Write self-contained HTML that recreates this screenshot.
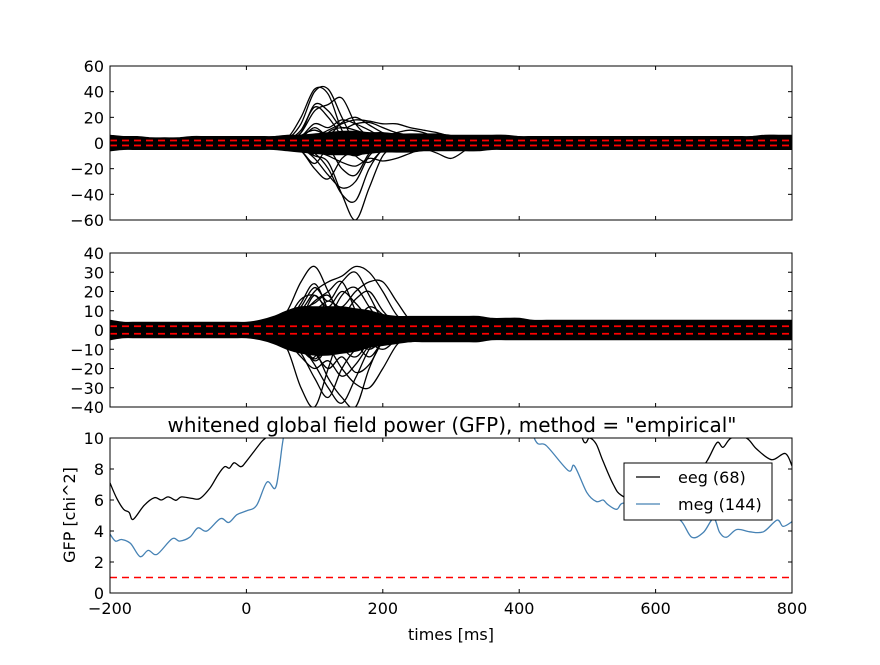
<!DOCTYPE html>
<html><head><meta charset="utf-8"><style>
body{margin:0;background:#fff}
svg text{font-family:"DejaVu Sans","Liberation Sans",sans-serif;fill:#000}
</style></head><body>
<svg id="fig" width="880" height="660" xmlns="http://www.w3.org/2000/svg"></svg>
<script>
// ---- data ----
const bandTimes = [-200,-180,-160,-140,-120,-100,-80,-60,-40,-20,0,20,40,60,80,100,120,140,160,180,200,220,240,260,280,300,320,340,360,380,400,420,440,460,480,500,520,540,560,580,600,620,640,660,680,700,720,740,760,780,800];
const eegBandUpper = [6,5,5,4,4,4,5,5,5,5,5,5,5,6,6,7,8,9,9,8,8,7,7,7,7,6,6,6,6,6,5,5,5,5,5,5,5,5,5,5,5,5,5,5,5,5,5,5,6,6,6];
const eegBandLower = [-6,-5,-5,-5,-5,-5,-5,-5,-5,-5,-5,-5,-5,-6,-7,-8,-9,-9,-9,-8,-7,-7,-7,-6,-6,-6,-6,-6,-5,-5,-5,-5,-5,-5,-5,-5,-5,-5,-5,-5,-5,-5,-5,-5,-5,-5,-5,-5,-5,-5,-5];
const megBandUpper = [5,4,4,4,4,4,4,4,4,4,4,5,7,10,12,12,12,12,11,10,8,7,7,7,7,7,7,7,6,6,6,5,5,5,5,5,5,5,5,5,5,5,5,5,5,5,5,5,5,5,5];
const megBandLower = [-5,-4,-4,-4,-4,-4,-4,-4,-4,-4,-4,-5,-7,-10,-12,-13,-13,-12,-11,-9,-8,-7,-6,-6,-6,-6,-6,-6,-5,-5,-5,-5,-5,-5,-5,-5,-5,-5,-5,-5,-5,-5,-5,-5,-5,-5,-5,-5,-5,-5,-5];
const evokedTimes = [0,20,40,60,80,100,120,140,160,180,200,220,240,260,280,300,320];
const eegTraces = [
 [0,1,2,4,20,42,38,10,-5,-3,0,2,1,0,0,0,0],
 [0,0,1,3,15,40,42,20,0,-2,0,1,0,0,0,0,0],
 [0,0,1,2,8,25,30,35,15,5,2,0,0,0,0,0,0],
 [1,1,0,-2,-5,-10,-15,-40,-60,-35,-10,-3,-1,0,1,0,0],
 [0,0,0,-1,-3,-8,-20,-40,-45,-20,-5,0,0,0,0,0,0],
 [0,0,1,0,-4,-12,-25,-35,-30,-10,-2,0,0,1,0,0,0],
 [0,0,0,1,5,15,12,18,15,10,5,8,10,8,4,2,1],
 [0,0,0,-1,-6,-16,-5,-20,-25,-8,0,3,2,0,0,0,0],
 [0,0,0,2,10,28,20,5,-10,-15,-5,0,0,0,0,0,0],
 [0,0,0,0,2,5,10,15,18,17,15,15,12,10,8,5,2],
 [0,0,0,-1,-3,-6,-10,-15,-18,-12,-14,-12,-8,-4,-2,0,0],
 [0,0,0,1,8,30,25,12,15,16,12,8,6,4,2,1,0],
 [0,0,0,-2,-6,-20,-28,-12,-6,-3,-1,0,0,-4,-8,-12,-6],
 [0,0,0,1,4,12,6,16,20,14,8,4,2,0,0,0,0],
 [0,0,1,3,6,10,4,-6,-10,-6,-2,0,0,0,0,0,0],
 [0,0,0,-2,-4,-8,8,12,10,6,3,1,0,0,0,0,0]
];
const megTraces = [
 [0,1,3,10,25,33,20,5,-5,-10,-5,0,0,0,0,0,0],
 [0,-1,-3,-10,-30,-40,-20,0,5,0,0,0,0,0,0,0,0],
 [0,0,1,3,8,15,20,25,10,-5,-10,-5,0,0,0,0,0],
 [0,0,0,-2,-5,-10,-25,-35,-40,-20,-5,0,0,0,0,0,0],
 [0,0,2,5,10,20,25,28,33,30,20,8,2,0,0,0,0],
 [0,0,-1,-3,-8,-15,-10,-20,-28,-30,-20,-8,-2,0,0,0,0],
 [0,0,1,4,12,22,15,25,30,18,5,0,0,0,0,0,0],
 [0,0,-1,-4,-12,-25,-35,-20,-10,-5,0,0,0,0,0,0,0],
 [0,0,1,2,5,10,15,12,20,25,25,15,5,0,0,0,0],
 [0,0,-1,-2,-8,-18,-30,-38,-25,-10,-2,0,0,0,0,0,0],
 [0,0,1,3,14,24,10,-8,-14,-6,0,4,6,5,3,1,0],
 [0,0,-1,-3,-10,-14,4,18,22,12,2,-4,-6,-4,-2,0,0],
 [0,0,2,6,16,18,12,20,14,6,2,0,0,0,0,0,0],
 [0,0,-2,-6,-14,-20,-16,-24,-18,-8,-2,0,0,0,0,0,0],
 [0,0,1,3,10,14,18,8,16,20,10,3,0,0,0,0,0],
 [0,0,-1,-4,-8,-12,-20,-14,-22,-18,-6,-1,0,0,0,0,0],
 [0,0,1,2,6,18,8,-4,4,12,8,2,0,0,0,0,0],
 [0,0,-1,-2,-5,-16,-8,6,-6,-14,-6,-2,0,0,0,0,0]
];
const gfpEegTimes = [-200,-190,-180,-172,-166,-150,-135,-125,-115,-105,-102,-95,-80,-68,-53,-42,-32,-25,-18,-8,0,22,32,60,200,400,480,496,503,513,523,538,550,580,620,650,675,690,699,711,733,748,770,790,800];
const gfpEeg = [7.1,6.1,5.4,5.2,4.75,5.65,6.15,6.0,6.2,6.0,6.0,6.2,6.1,6.1,6.8,7.6,8.15,8.05,8.4,8.15,8.5,9.75,10.2,12,16,12,10.5,9.7,10.0,9.6,8.5,7.0,6.3,5.8,6.0,7.0,8.5,9.7,9.4,10.0,10.0,9.3,8.6,9.0,8.2];
const gfpMegTimes = [-200,-192,-183,-170,-156,-144,-131,-109,-98,-83,-71,-58,-38,-26,-14,0,15,30,42,48,55,70,200,400,423,440,472,481,499,513,523,530,543,553,580,610,636,653,670,685,694,704,719,738,758,778,787,800];
const gfpMeg = [3.8,3.35,3.45,3.2,2.35,2.75,2.5,3.5,3.35,3.6,4.2,4.0,4.8,4.55,5.05,5.3,5.65,7.15,6.75,8.0,10.2,13,16,13,9.9,9.5,7.9,8.2,6.5,5.9,6.0,5.7,5.4,5.8,5.3,5.0,4.7,3.6,3.9,4.8,3.9,3.6,4.1,3.95,3.95,4.7,4.3,4.6];
const xTicks = [-200,0,200,400,600,800];
const y1Ticks = [-60,-40,-20,0,20,40,60];
const y2Ticks = [-40,-30,-20,-10,0,10,20,30,40];
const y3Ticks = [0,2,4,6,8,10];

// ---- drawing ----
const NS="http://www.w3.org/2000/svg";
const svg=document.getElementById('fig');
function mk(tag,attrs,parent){const e=document.createElementNS(NS,tag);for(const k in attrs)e.setAttribute(k,attrs[k]);(parent||svg).appendChild(e);return e;}
const X0=110,X1=792;
const xs=t=>X0+(t+200)/1000*(X1-X0);
const panels=[
 {top:66,bot:220,min:-60,max:60,ticks:y1Ticks,name:'eeg-panel'},
 {top:253,bot:407,min:-40,max:40,ticks:y2Ticks,name:'meg-panel'},
 {top:438,bot:593,min:0,max:10,ticks:y3Ticks,name:'gfp-panel'}];
panels.forEach((p,i)=>{p.ys=v=>p.bot-(v-p.min)/(p.max-p.min)*(p.bot-p.top);
 const cp=mk('clipPath',{id:'clip'+i});mk('rect',{x:X0,y:p.top,width:X1-X0,height:p.bot-p.top},cp);});
function smooth(pts){let d='M'+pts[0][0].toFixed(1)+','+pts[0][1].toFixed(1);
 for(let i=0;i<pts.length-1;i++){const p0=pts[Math.max(0,i-1)],p1=pts[i],p2=pts[i+1],p3=pts[Math.min(pts.length-1,i+2)];
  const c1=[p1[0]+(p2[0]-p0[0])/6,p1[1]+(p2[1]-p0[1])/6],c2=[p2[0]-(p3[0]-p1[0])/6,p2[1]-(p3[1]-p1[1])/6];
  d+=' C'+c1.map(v=>v.toFixed(1))+' '+c2.map(v=>v.toFixed(1))+' '+p2[0].toFixed(1)+','+p2[1].toFixed(1);}
 return d;}
function drawButterfly(p,i,up,lo,traces,nm){
 const g=mk('g',{'clip-path':'url(#clip'+i+')'});
 
 
 const top=bandTimes.map((t,k)=>[xs(t),p.ys(up[k])]);
 const bot=bandTimes.map((t,k)=>[xs(t),p.ys(lo[k])]).reverse();
 const band=mk('path',{d:smooth(top)+' L'+smooth(bot).slice(1)+' Z',fill:'#000',stroke:'#000','stroke-width':1.2},g);
 
 
 traces.forEach((tr,k)=>{
  const pts=evokedTimes.map((t,j)=>[xs(t),p.ys(tr[j])]);
  const e=mk('path',{d:smooth(pts),fill:'none',stroke:'#000','stroke-width':1.3},g);
  
  });
 [-1.96,1.96].forEach(v=>{const l=mk('line',{x1:X0,x2:X1,y1:p.ys(v),y2:p.ys(v),stroke:'#f00','stroke-width':1.8,'stroke-dasharray':'7,5'},g);
  
  });
}
drawButterfly(panels[0],0,eegBandUpper,eegBandLower,eegTraces,'eeg');
drawButterfly(panels[1],1,megBandUpper,megBandLower,megTraces,'meg');
// gfp
{const p=panels[2];const g=mk('g',{'clip-path':'url(#clip2)'});
 const l=mk('line',{x1:X0,x2:X1,y1:p.ys(1),y2:p.ys(1),stroke:'#f00','stroke-width':1.5,'stroke-dasharray':'7,5'},g);
 
 
 const a=mk('path',{d:smooth(gfpEegTimes.map((t,k)=>[xs(t),p.ys(gfpEeg[k])])),fill:'none',stroke:'#000','stroke-width':1.3},g);
 
 
 const b=mk('path',{d:smooth(gfpMegTimes.map((t,k)=>[xs(t),p.ys(gfpMeg[k])])),fill:'none',stroke:'#4682b4','stroke-width':1.3},g);
 
 }
// axes
panels.forEach((p,i)=>{
 const fr=mk('rect',{x:X0,y:p.top,width:X1-X0,height:p.bot-p.top,fill:'none',stroke:'#000','stroke-width':1});
 
 
 xTicks.forEach(t=>{const x=xs(t);
  mk('line',{x1:x,x2:x,y1:p.bot,y2:p.bot-4,stroke:'#000'});mk('line',{x1:x,x2:x,y1:p.top,y2:p.top+4,stroke:'#000'});
  if(i===2){const tx=mk('text',{x:x,y:p.bot+21,'text-anchor':'middle','font-size':16});tx.textContent=t===-200?'\u2212200':t;
   
   }});
 p.ticks.forEach(v=>{const y=p.ys(v);
  mk('line',{x1:X0,x2:X0+4,y1:y,y2:y,stroke:'#000'});mk('line',{x1:X1,x2:X1-4,y1:y,y2:y,stroke:'#000'});
  const tx=mk('text',{x:X0-6,y:y+6,'text-anchor':'end','font-size':16});tx.textContent=v<0?'\u2212'+(-v):v;
  
  });
});
let t;
t=mk('text',{x:452,y:432,'text-anchor':'middle','font-size':20});t.textContent='whitened global field power (GFP), method = "empirical"';


t=mk('text',{x:451,y:640,'text-anchor':'middle','font-size':16});t.textContent='times [ms]';


t=mk('text',{x:0,y:0,'text-anchor':'middle','font-size':16,transform:'translate(75,515) rotate(-90)'});t.textContent='GFP [chi^2]';


// legend
const lg=mk('g',{});


mk('rect',{x:624,y:463,width:148,height:57,fill:'#fff',stroke:'#000'},lg);
[['eeg (68)','#000',477],['meg (144)','#4682b4',504]].forEach(([lab,c,y])=>{
 const ln=mk('line',{x1:636,x2:660,y1:y,y2:y,stroke:c,'stroke-width':1.3},lg);
 
 
 const tx=mk('text',{x:678,y:y+6,'font-size':16},lg);tx.textContent=lab;
 
 });
</script>
</body></html>
